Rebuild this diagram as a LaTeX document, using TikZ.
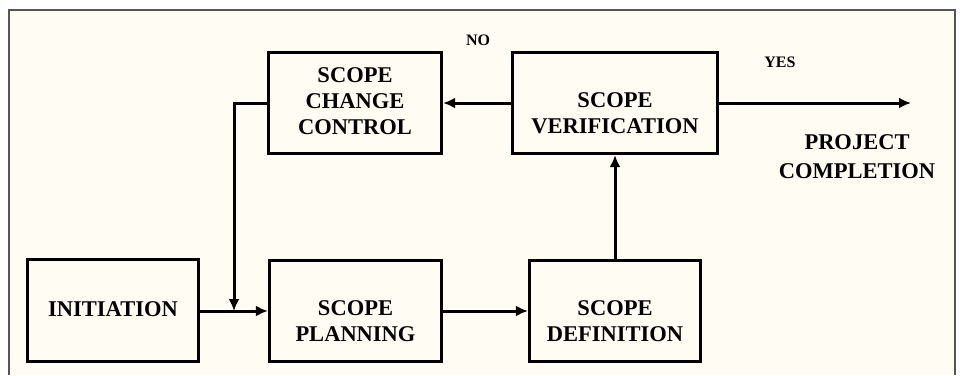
\documentclass[tikz,border=0pt]{standalone}
\usepackage{fontspec}
\setmainfont{Liberation Serif}
\usetikzlibrary{arrows.meta,calc}
\definecolor{cream}{HTML}{FFFCF3}
\definecolor{framegray}{HTML}{555555}
\begin{document}
\begin{tikzpicture}[x=1pt,y=-1pt,
  box/.style={draw=black,line width=3.2pt,minimum width=#1,minimum height=101pt,inner sep=0pt},
  box/.default=173pt,
  txt/.style={align=center,font=\fontsize{22.5}{26}\selectfont\bfseries,inner sep=0pt},
  small/.style={font=\fontsize{16}{19}\selectfont\bfseries,inner sep=0pt},
  conn/.style={line width=3pt,-{Latex[length=12pt,width=11pt]}}]
\useasboundingbox (0,0) rectangle (964,375);
\fill[white] (0,0) rectangle (964,375);
\fill[cream] (9,10) rectangle (955,375);
\draw[framegray,line width=1.2pt] (9,375) -- (9,10) -- (955,10) -- (955,375);

\node[box=173pt] (cc) at (355,103) {};
\node[txt] (cct) at (355,101) {SCOPE\\CHANGE\\CONTROL};
\node[box=205pt] (ver) at (615,103) {};
\node[txt] (vert) at (615,113) {SCOPE\\VERIFICATION};
\node[box=171pt,minimum height=102pt] (ini) at (113,310.5) {};
\node[txt] (init) at (113,309) {INITIATION};
\node[box=172pt] (pl) at (355.5,311) {};
\node[txt] (plt) at (355.5,321) {SCOPE\\PLANNING};
\node[box=171pt] (def) at (615,311) {};
\node[txt] (deft) at (615,321) {SCOPE\\DEFINITION};

\node[small] (no) at (478,40) {NO};
\node[small] (yes) at (780,62) {YES};
\node[align=center,font=\fontsize{22.5}{29}\selectfont\bfseries,inner sep=0pt] (pc) at (857,157) {PROJECT\\COMPLETION};

\coordinate (bend1) at (234,103);
\coordinate (join) at (234,311);
\coordinate (out) at (911,103);

\draw[conn] (ini.east |- join) -- (pl.west |- join);
\draw[conn] (cc.west) -- (bend1) -- (join);
\draw[conn] (pl.east) -- (def.west);
\draw[conn] (def.north) -- (ver.south);
\draw[conn] (ver.west) -- (cc.east);
\draw[conn] (ver.east) -- (out);
\end{tikzpicture}
\end{document}
